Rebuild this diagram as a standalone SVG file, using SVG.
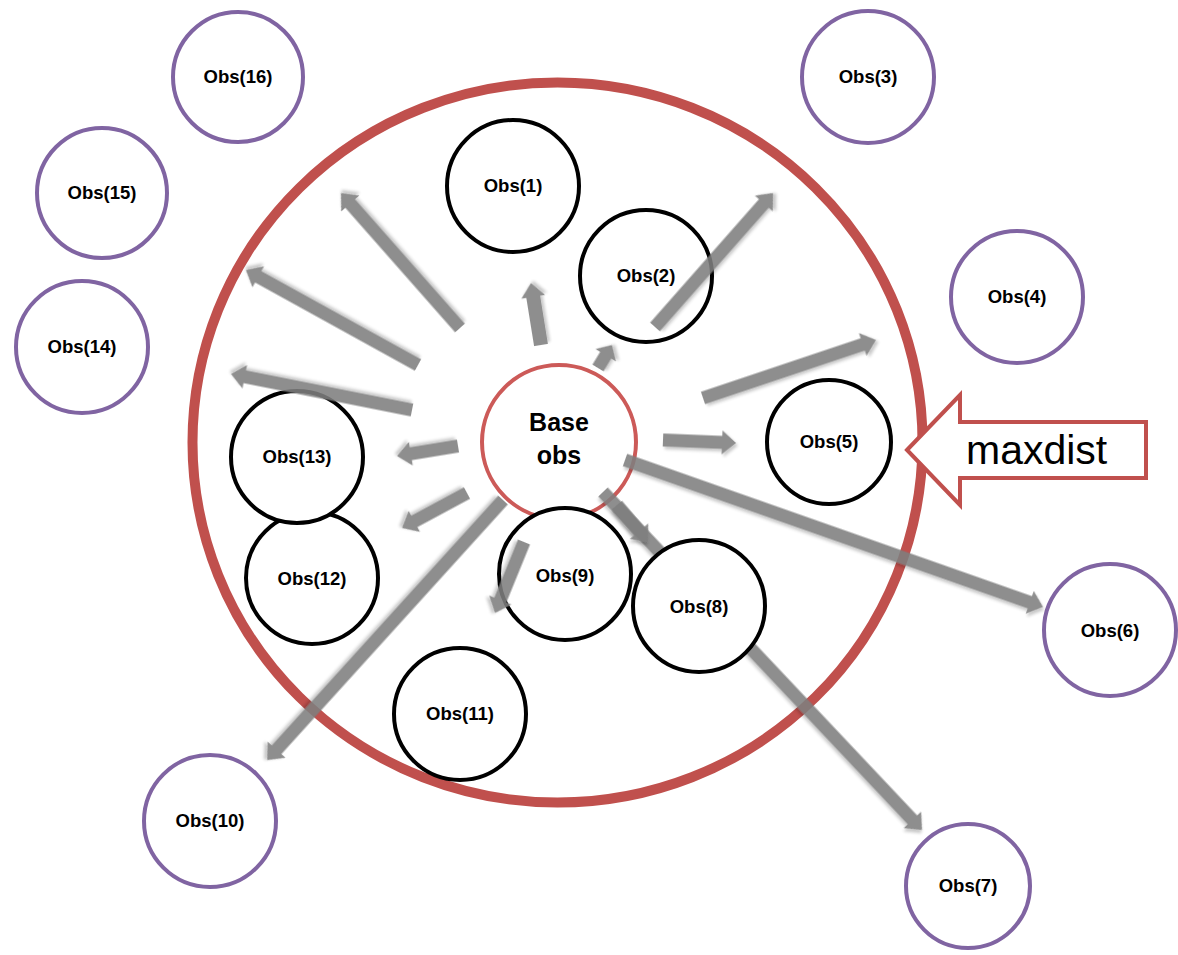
<svg xmlns="http://www.w3.org/2000/svg" width="1178" height="955" viewBox="0 0 1178 955">
  <style>
    .lbl { font-family: "Liberation Sans", Arial, sans-serif; font-weight: bold; font-size: 18.5px; fill: #000; text-anchor: middle; }
    .near { fill: #fff; stroke: #000; stroke-width: 4; }
    .far { fill: #fff; stroke: #8064a2; stroke-width: 4; }
    .arr { fill: #7f7f7f; opacity: 0.88; filter: url(#shadow); }
  </style>
  <defs>
    <filter id="shadow" x="-20%" y="-20%" width="140%" height="140%">
      <feDropShadow dx="2" dy="2.5" stdDeviation="1.8" flood-color="#000" flood-opacity="0.25"/>
    </filter>
  </defs>
  <rect width="1178" height="955" fill="#fff"/>

  <!-- search radius -->
  <ellipse id="range" cx="557.5" cy="442.5" rx="365" ry="360" fill="none" stroke="#c0504d" stroke-width="10"/>

  <!-- observations outside the radius -->
  <g id="obs16"><circle class="far" cx="238" cy="77" r="65"/><text class="lbl" x="238" y="83">Obs(16)</text></g>
  <g id="obs15"><circle class="far" cx="102" cy="193" r="65"/><text class="lbl" x="102" y="199">Obs(15)</text></g>
  <g id="obs14"><circle class="far" cx="82" cy="347" r="66"/><text class="lbl" x="82" y="353">Obs(14)</text></g>
  <g id="obs3"><circle class="far" cx="868" cy="77" r="66"/><text class="lbl" x="868" y="83">Obs(3)</text></g>
  <g id="obs4"><circle class="far" cx="1017" cy="297" r="66"/><text class="lbl" x="1017" y="303">Obs(4)</text></g>
  <g id="obs6"><circle class="far" cx="1110" cy="630" r="66"/><text class="lbl" x="1110" y="637">Obs(6)</text></g>
  <g id="obs10"><circle class="far" cx="210" cy="821" r="66"/><text class="lbl" x="210" y="827">Obs(10)</text></g>
  <g id="obs7"><circle class="far" cx="968" cy="886" r="62"/><text class="lbl" x="968" y="892">Obs(7)</text></g>

  <!-- observations inside the radius -->
  <g id="obs1"><circle class="near" cx="513" cy="186" r="66"/><text class="lbl" x="513" y="192">Obs(1)</text></g>
  <g id="obs2"><circle class="near" cx="646" cy="276" r="66"/><text class="lbl" x="646" y="282">Obs(2)</text></g>
  <g id="obs5"><circle class="near" cx="829" cy="442" r="62"/><text class="lbl" x="829" y="448">Obs(5)</text></g>
  <g id="obs12"><circle class="near" cx="312" cy="578" r="66"/><text class="lbl" x="312" y="585">Obs(12)</text></g>
  <g id="obs13"><circle class="near" cx="297" cy="457" r="66"/><text class="lbl" x="297" y="463">Obs(13)</text></g>
  <g id="obs11"><circle class="near" cx="460" cy="714" r="66"/><text class="lbl" x="460" y="720">Obs(11)</text></g>

  <!-- base observation -->
  <g id="base">
    <circle cx="559" cy="442" r="77" fill="#fff" stroke="#cc5a58" stroke-width="4"/>
    <text class="lbl" x="559" y="431" style="font-size:25px">Base</text>
    <text class="lbl" x="559" y="464" style="font-size:25px">obs</text>
  </g>
  <g id="obs9"><circle class="near" cx="565" cy="574" r="66"/><text class="lbl" x="565" y="582">Obs(9)</text></g>

  <!-- connectors -->
  <g id="connectors">
    <!-- long ray to Obs(7), passes under Obs(8) -->
    <path class="arr" transform="translate(603,492) rotate(46.66)" d="M0,-6.5 H450.8 V-12 L464.8,0 L450.8,12 V6.5 H0 Z"/>
  </g>

  <g id="obs8"><circle class="near" cx="699" cy="606" r="66"/><text class="lbl" x="699" y="613">Obs(8)</text></g>

  <g id="connectors-top">
    <path class="arr" transform="translate(541,345) rotate(-99.16)" d="M0,-7 H48.8 V-12 L62.8,0 L48.8,12 V7 H0 Z"/>
    <path class="arr" transform="translate(598,368) rotate(-58.7)" d="M0,-6.5 H14.9 V-12 L26.9,0 L14.9,12 V6.5 H0 Z"/>
    <path class="arr" transform="translate(655,327) rotate(-48.6)" d="M0,-6.5 H164.6 V-12 L178.6,0 L164.6,12 V6.5 H0 Z"/>
    <path class="arr" transform="translate(460,328) rotate(-131.4)" d="M0,-6.5 H166 V-12 L180,0 L166,12 V6.5 H0 Z"/>
    <path class="arr" transform="translate(418,365) rotate(-151.1)" d="M0,-6.5 H182.5 V-12 L196.5,0 L182.5,12 V6.5 H0 Z"/>
    <path class="arr" transform="translate(412,410) rotate(-168.75)" d="M0,-6.5 H170.5 V-12 L184.5,0 L170.5,12 V6.5 H0 Z"/>
    <path class="arr" transform="translate(458,446) rotate(170.7)" d="M0,-6.5 H47.8 V-12 L61.8,0 L47.8,12 V6.5 H0 Z"/>
    <path class="arr" transform="translate(467,493) rotate(151.7)" d="M0,-6.5 H59.8 V-12 L73.8,0 L59.8,12 V6.5 H0 Z"/>
    <path class="arr" transform="translate(503,500) rotate(132.2)" d="M0,-6.5 H337.1 V-12 L351.1,0 L337.1,12 V6.5 H0 Z"/>
    <path class="arr" transform="translate(524,542) rotate(112.2)" d="M0,-6.5 H62.7 V-12 L76.7,0 L62.7,12 V6.5 H0 Z"/>
    <path class="arr" transform="translate(617,505) rotate(50)" d="M0,-6.5 H34.3 V-12 L48.3,0 L34.3,12 V6.5 H0 Z"/>
    <path class="arr" transform="translate(663,440) rotate(2.35)" d="M0,-6.5 H59.1 V-12 L73.1,0 L59.1,12 V6.5 H0 Z"/>
    <path class="arr" transform="translate(703,398) rotate(-18.53)" d="M0,-6.5 H168.5 V-12 L182.5,0 L168.5,12 V6.5 H0 Z"/>
    <path class="arr" transform="translate(625,460) rotate(19.37)" d="M0,-6.5 H429.1 V-12 L443.1,0 L429.1,12 V6.5 H0 Z"/>
  </g>

  <!-- radius callout -->
  <g id="maxdist">
    <polygon points="907,450 960,395 960,422 1146,422 1146,478 960,478 960,505" fill="#fff" stroke="#c0504d" stroke-width="4" stroke-linejoin="miter"/>
    <text x="966" y="464" style="font-family:'Liberation Sans', Arial, sans-serif;font-size:41px;fill:#000">maxdist</text>
  </g>
</svg>
